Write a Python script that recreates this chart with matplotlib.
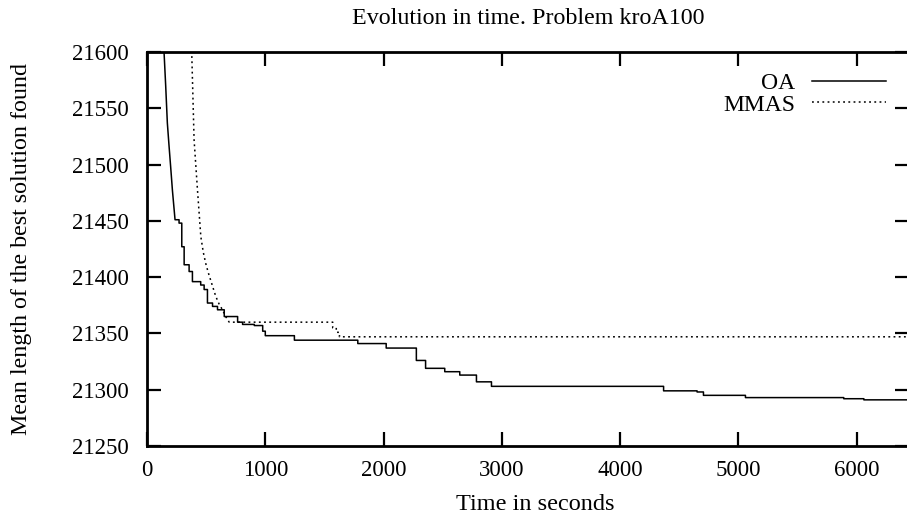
import matplotlib
matplotlib.use('Agg')
import matplotlib.pyplot as plt

# OA: best solution length (step function after the first steep descent)
oa_t = [140, 144, 158, 172, 186, 200, 215, 226, 237, 271, 294, 314, 356, 384, 454, 483,
        511, 554, 596, 653, 766, 808, 907, 978, 1000, 1246, 1782, 2022, 2277, 2355,
        2517, 2644, 2785, 2912, 4367, 4650, 4704, 5059, 5890, 6060, 6440]
oa_v = [21650, 21600, 21570, 21537, 21517, 21498, 21477, 21464, 21451, 21448, 21427, 21411,
        21405, 21396, 21393, 21389, 21377, 21374, 21371, 21365, 21360, 21358, 21357, 21352,
        21348, 21344, 21341, 21337, 21326, 21319, 21316, 21313, 21307, 21303, 21299, 21298,
        21295, 21293, 21292, 21291, 21291]

# MMAS
mmas_t = [370, 378, 398, 427, 455, 476, 497, 518, 539, 560, 581, 610, 638, 665, 695,
          1542, 1570, 1600, 1627, 6440]
mmas_v = [21650, 21600, 21522, 21477, 21436, 21422, 21412, 21404, 21397, 21390, 21383,
          21376, 21371, 21365, 21360, 21360, 21355, 21351, 21347, 21347]

x_ticks = [0, 1000, 2000, 3000, 4000, 5000, 6000]
y_ticks = [21250, 21300, 21350, 21400, 21450, 21500, 21550, 21600]


def mixed_path(t, v, t_step):
    # linear before t_step, steps-post afterwards
    xs, ys = [t[0]], [v[0]]
    for i in range(1, len(t)):
        if t[i] > t_step:
            xs.append(t[i])
            ys.append(v[i - 1])
        xs.append(t[i])
        ys.append(v[i])
    return xs, ys


plt.rcParams['font.family'] = ['Liberation Serif', 'DejaVu Serif']
plt.rcParams['font.size'] = 16.5

fig = plt.figure(figsize=(9.07, 5.17), dpi=100)
ax = fig.add_axes([147 / 907, 1 - 446 / 517, 1 - 147 / 907 + 0.002, (446 - 52) / 517])

x, y = mixed_path(oa_t, oa_v, 250)
ax.plot(x, y, color='black', lw=1.1, label='OA')
x, y = mixed_path(mmas_t, mmas_v, 700)
ax.plot(x, y, color='black', lw=1.1, dashes=(1.2, 2.2), label='MMAS')

ax.set_xlim(0, 6440)
ax.set_ylim(21250, 21600)
ax.set_xticks(x_ticks)
ax.set_yticks(y_ticks)
ax.tick_params(direction='in', length=10, width=1.6, top=True, right=True)
ax.tick_params(axis='y', pad=13)
ax.tick_params(axis='x', pad=10)
for sp in ax.spines.values():
    sp.set_linewidth(2)

ax.set_title('Evolution in time. Problem kroA100', fontsize=17.3, pad=20)
ax.set_xlabel('Time in seconds', fontsize=17.5, labelpad=9.5)
ax.xaxis.label.set_x(0.51)
ax.set_ylabel('Mean length of the best solution found', fontsize=17.3)
ax.yaxis.set_label_coords(-(147 - 32) / 762, 0.5)

ax.legend(loc='upper right', bbox_to_anchor=(0.992, 0.99), frameon=False,
          markerfirst=False, handlelength=3.13, handletextpad=0.72, labelspacing=0.0,
          borderaxespad=0.3, fontsize=17)

fig.savefig('out.png', dpi=100)
